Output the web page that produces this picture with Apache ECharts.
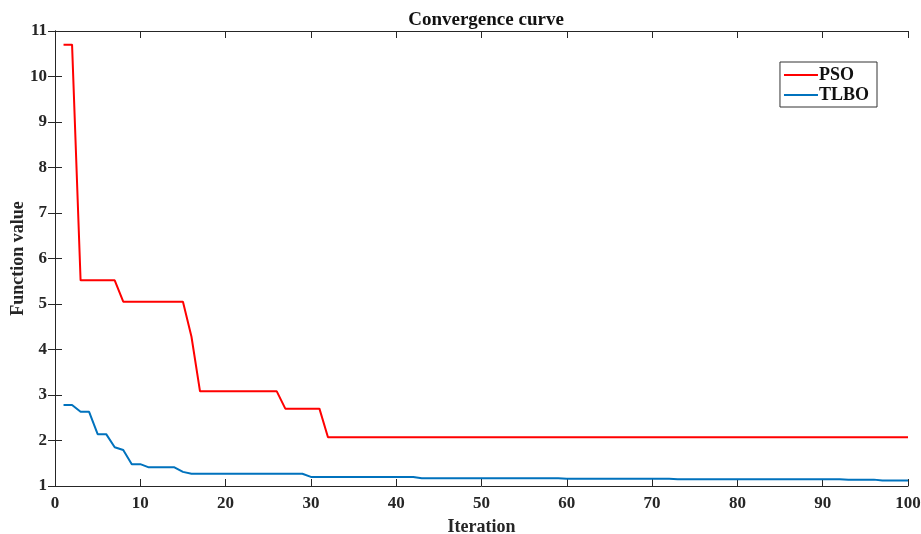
<!DOCTYPE html>
<html>
<head>
<meta charset="utf-8">
<script src="https://cdn.jsdelivr.net/npm/echarts@6/dist/echarts.min.js"></script>
<style>
  html, body { margin: 0; padding: 0; background: #fff; }
  #chart { width: 921px; height: 534px; }
</style>
</head>
<body>
<div id="chart"></div>
<script>
// step points (iteration, function value)
const psoIter = [1, 2, 3, 7, 8, 15, 16, 17, 26, 27, 31, 32, 100];
const psoValue = [10.7, 10.7, 5.52, 5.52, 5.05, 5.05, 4.28, 3.08, 3.08, 2.7, 2.7, 2.07, 2.07];

const tlboIter = [1, 2, 3, 4, 5, 6, 7, 8, 9, 10, 11, 14, 15, 16, 29, 30, 42, 43, 59, 60, 72, 73, 92, 93, 96, 97, 100];
const tlboValue = [2.78, 2.78, 2.63, 2.63, 2.14, 2.14, 1.85, 1.79, 1.48, 1.48, 1.41, 1.41, 1.31, 1.27, 1.27, 1.2, 1.2, 1.17, 1.17, 1.16, 1.16, 1.15, 1.15, 1.14, 1.14, 1.12, 1.12];

const font = "'Liberation Serif', 'Times New Roman', serif";
const axisColor = "#262626";

const pairs = (xs, ys) => xs.map((x, i) => [x, ys[i]]);

const chart = echarts.init(document.getElementById("chart"));
const option = {
  animation: false,
  title: {
    text: "Convergence curve",
    left: 481,
    top: 6,
    textAlign: "center",
    textStyle: { fontFamily: font, fontSize: 19, fontWeight: "bold", color: "#111" },
  },
  legend: {
    orient: "vertical",
    right: 44,
    top: 62,
    padding: [4, 8, 3, 4],
    itemGap: 2,
    itemWidth: 34,
    itemHeight: 2,
    icon: "rect",
    borderColor: "#333",
    borderWidth: 1,
    backgroundColor: "#fff",
    textStyle: { fontFamily: font, fontSize: 18, fontWeight: "bold", color: "#111", padding: [0, 0, 0, -4] },
    data: ["PSO", "TLBO"],
  },
  grid: { left: 55, right: 13, top: 31, bottom: 48, outerBoundsMode: "none", containLabel: false },
  xAxis: [
    {
      type: "value",
      min: 0,
      max: 100,
      interval: 10,
      name: "Iteration",
      nameLocation: "middle",
      nameGap: 32,
      nameMoveOverlap: false,
      nameTextStyle: { fontFamily: font, fontSize: 18, fontWeight: "bold", color: "#262626" },
      axisLine: { lineStyle: { color: axisColor, width: 1 } },
      axisTick: { inside: true, length: 7, lineStyle: { color: axisColor } },
      axisLabel: { fontFamily: font, fontSize: 17, fontWeight: "bold", color: "#262626", margin: 9 },
      splitLine: { show: false },
    },
    {
      type: "value",
      position: "top",
      min: 0,
      max: 100,
      interval: 10,
      axisLine: { show: true, lineStyle: { color: axisColor, width: 1 } },
      axisTick: { inside: true, length: 7, lineStyle: { color: axisColor } },
      axisLabel: { show: false },
      splitLine: { show: false },
    },
  ],
  yAxis: [
    {
      type: "value",
      min: 1,
      max: 11,
      interval: 1,
      name: "Function value",
      nameLocation: "middle",
      nameGap: 28,
      nameMoveOverlap: false,
      nameTextStyle: { fontFamily: font, fontSize: 18, fontWeight: "bold", color: "#262626" },
      axisLine: { show: true, lineStyle: { color: axisColor, width: 1 } },
      axisTick: { show: true, inside: true, length: 7, lineStyle: { color: axisColor } },
      axisLabel: { fontFamily: font, fontSize: 17, fontWeight: "bold", color: "#262626", margin: 8 },
      splitLine: { show: false },
    },
    {
      type: "value",
      position: "right",
      min: 1,
      max: 11,
      interval: 1,
      axisLine: { show: true, lineStyle: { color: axisColor, width: 1 } },
      axisTick: { show: true, inside: true, length: 7, lineStyle: { color: axisColor } },
      axisLabel: { show: false },
      splitLine: { show: false },
    },
  ],
  series: [
    {
      name: "PSO",
      type: "line",
      data: pairs(psoIter, psoValue),
      symbol: "none",
      lineStyle: { color: "#ff0000", width: 2 },
      itemStyle: { color: "#ff0000" },
    },
    {
      name: "TLBO",
      type: "line",
      data: pairs(tlboIter, tlboValue),
      symbol: "none",
      lineStyle: { color: "#0072bd", width: 2 },
      itemStyle: { color: "#0072bd" },
    },
  ],
};
chart.setOption(option);
</script>
</body>
</html>
